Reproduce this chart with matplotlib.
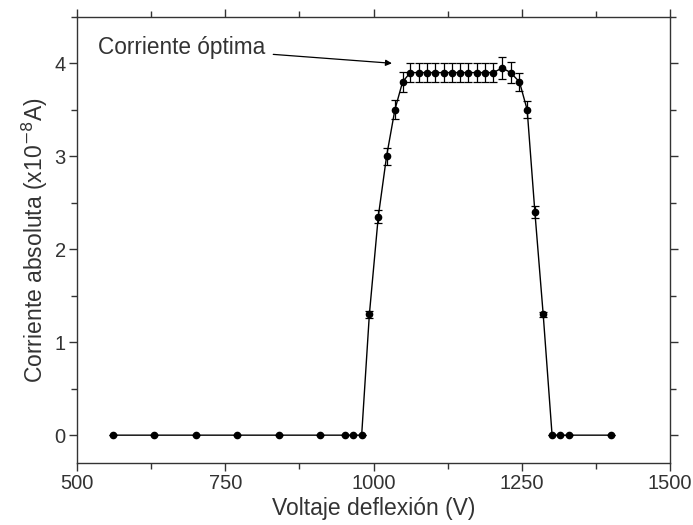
import matplotlib
matplotlib.use("Agg")
import matplotlib.pyplot as plt
from matplotlib.ticker import MultipleLocator

plt.rcParams['font.family'] = ['Liberation Sans', 'DejaVu Sans']

voltage = [560, 630, 700, 770, 840, 910, 952, 966, 980,
           993, 1008, 1022, 1036, 1049,
           1062, 1076, 1090, 1104, 1118, 1132, 1146, 1160, 1174, 1188, 1202,
           1217, 1231, 1246, 1259, 1272, 1286,
           1301, 1315, 1329, 1400]
current = [0, 0, 0, 0, 0, 0, 0, 0, 0,
           1.30, 2.35, 3.00, 3.50, 3.80,
           3.90, 3.90, 3.90, 3.90, 3.90, 3.90, 3.90, 3.90, 3.90, 3.90, 3.90,
           3.95, 3.90, 3.80, 3.50, 2.40, 1.30,
           0, 0, 0, 0]
error = [0, 0, 0, 0, 0, 0, 0, 0, 0,
         0.04, 0.07, 0.09, 0.10, 0.11,
         0.10, 0.10, 0.10, 0.10, 0.10, 0.10, 0.10, 0.10, 0.10, 0.10, 0.10,
         0.12, 0.11, 0.10, 0.09, 0.06, 0.03,
         0, 0, 0, 0]

text_color = '#333333'

fig = plt.figure(figsize=(6.93, 5.25), dpi=100)
ax = fig.add_axes([0.111, 0.118, 0.856, 0.850])

ax.errorbar(voltage, current, yerr=error, color='black', lw=1.0,
            marker='o', markersize=4.5, capsize=3.2, elinewidth=0.9,
            capthick=0.9)

ax.set_xlim(500, 1500)
ax.set_ylim(-0.3, 4.5)
ax.xaxis.set_major_locator(MultipleLocator(250))
ax.xaxis.set_minor_locator(MultipleLocator(125))
ax.yaxis.set_major_locator(MultipleLocator(1))
ax.yaxis.set_minor_locator(MultipleLocator(0.5))
ax.tick_params(which='both', direction='out', top=True, right=True,
               labeltop=False, labelright=False, labelsize=14.5,
               color='#333333', labelcolor=text_color)
ax.tick_params(which='major', length=6, width=1, pad=2)
ax.tick_params(which='minor', length=4, width=1)
for s in ax.spines.values():
    s.set_linewidth(1.0)
    s.set_color('#333333')

ax.set_xlabel('Voltaje deflexión (V)', fontsize=16.5, labelpad=3,
              color=text_color)
ax.set_ylabel('Corriente absoluta (x10$^{-8}$A)', fontsize=16.5, labelpad=3,
              color=text_color)

ax.annotate('Corriente óptima', xy=(1031, 4.0), xytext=(535, 4.17),
            fontsize=16.3, va='center', ha='left', color=text_color,
            arrowprops=dict(arrowstyle='-|>', color='black', lw=0.9,
                            mutation_scale=9, shrinkA=4, shrinkB=0))

fig.savefig('out.png', dpi=100)
